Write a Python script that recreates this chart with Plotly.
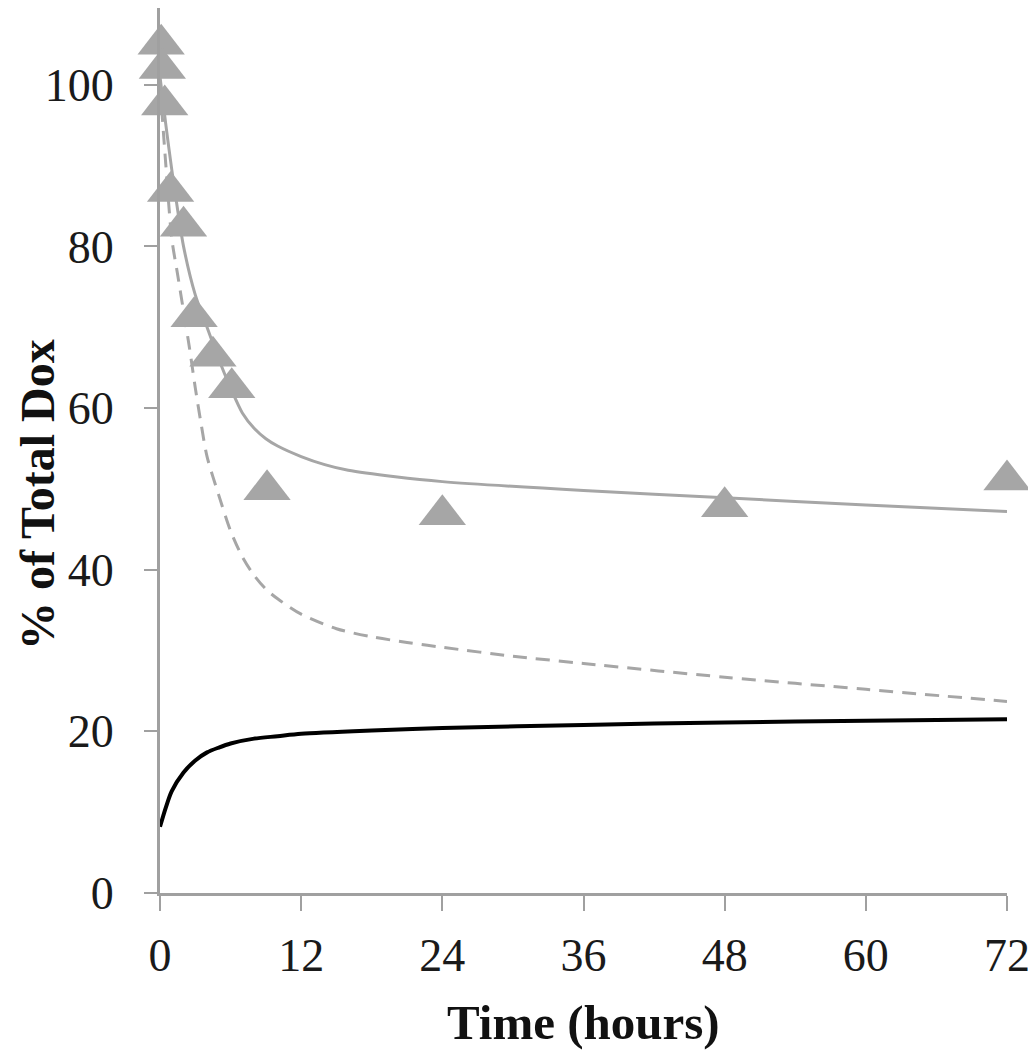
import plotly.graph_objects as go

# Observed data (triangles)
obs_time = [0.1, 0.2, 0.4, 0.9, 2.0, 2.9, 4.5, 6.1, 9.1, 24, 48, 72]
obs_pct = [105, 102, 97.5, 86.8, 82.5, 71.3, 66.4, 62.5, 49.9, 46.8, 47.8, 51.1]

# Fitted total (solid gray)
fit_time = [0, 0.5, 1, 1.5, 2, 3, 4, 5, 6, 7, 8, 9, 10, 12, 14, 16, 20, 24, 36, 48, 60, 72]
fit_total = [101, 95, 89.5, 84.5, 80, 74, 70, 66, 62.5, 59.4, 57.5, 56.2, 55.3, 54, 53, 52.3, 51.5, 50.9, 49.8, 48.9, 48, 47.2]

# Dashed gray curve
dash_time = [0, 0.5, 1, 1.5, 2, 2.5, 3, 3.5, 4, 5, 6, 7, 8, 9, 10, 12, 15, 18, 21, 24, 30, 36, 48, 60, 72]
dash_pct = [100, 90, 81, 76.5, 72, 67.5, 62.5, 58, 54, 49.2, 44.8, 41.6, 39.3, 37.6, 36.4, 34.5, 32.7, 31.7, 31, 30.4, 29.3, 28.4, 26.7, 25.2, 23.7]

# Black curve
black_time = [0, 0.5, 1, 2, 3, 4, 5, 6, 8, 10, 12, 18, 24, 36, 48, 60, 72]
black_pct = [8.2, 10.6, 12.6, 14.9, 16.4, 17.4, 18.0, 18.5, 19.1, 19.4, 19.7, 20.1, 20.4, 20.8, 21.1, 21.3, 21.5]

x_ticks = [0, 12, 24, 36, 48, 60, 72]
y_ticks = [0, 20, 40, 60, 80, 100]

x_title = "Time (hours)"
y_title = "% of Total Dox"

GRAY = "#a6a6a6"
AXIS = "#a0a0a0"
FONT = "Liberation Serif, Times New Roman, serif"
TXT = "#1a1a1a"

fig = go.Figure()
fig.add_trace(go.Scatter(x=black_time, y=black_pct, mode="lines",
                         line=dict(color="#000000", width=4, shape="spline", smoothing=0.8),
                         showlegend=False))
fig.add_trace(go.Scatter(x=dash_time, y=dash_pct, mode="lines",
                         line=dict(color=GRAY, width=3, dash="14px,9px", shape="spline", smoothing=0.8),
                         showlegend=False))
fig.add_trace(go.Scatter(x=fit_time, y=fit_total, mode="lines",
                         line=dict(color=GRAY, width=3, shape="spline", smoothing=0.8),
                         showlegend=False))
fig.add_trace(go.Scatter(x=obs_time, y=obs_pct, mode="markers",
                         marker=dict(symbol="triangle-up", size=41, color=GRAY,
                                     line=dict(width=0)),
                         cliponaxis=False, showlegend=False))

fig.update_layout(
    width=1036, height=1050,
    margin=dict(l=152, r=37, t=0, b=165),
    paper_bgcolor="white", plot_bgcolor="white",
    font=dict(family=FONT, color=TXT, size=46),
    annotations=[
        dict(text="<b>" + x_title + "</b>", xref="paper", yref="paper", x=0.5, y=0,
             xanchor="center", yanchor="middle", yshift=-129, showarrow=False,
             font=dict(family=FONT, size=49, color="#111111")),
        dict(text="<b>" + y_title + "</b>", xref="paper", yref="paper", x=0, y=0.4497,
             xanchor="center", yanchor="middle", xshift=-123, textangle=-90, showarrow=False,
             borderpad=0,
             font=dict(family=FONT, size=48, color="#111111")),
    ],
)
fig.update_xaxes(
    range=[0, 72], tickvals=x_ticks, ticktext=[str(v) for v in x_ticks],
    showgrid=False, zeroline=False,
    showline=True, linecolor=AXIS, linewidth=3,
    ticks="outside", ticklen=15, tickwidth=2, tickcolor=AXIS,
    tickfont=dict(family=FONT, size=46, color=TXT),
    ticklabelstandoff=5,
)
fig.update_yaxes(
    range=[0, 109.5], tickvals=y_ticks, ticktext=[str(v) for v in y_ticks],
    showgrid=False, zeroline=False,
    showline=True, linecolor=AXIS, linewidth=3,
    ticks="outside", ticklen=13, tickwidth=2, tickcolor=AXIS,
    tickfont=dict(family=FONT, size=46, color=TXT),
    ticklabelstandoff=21,
)

fig.write_html("out.html")
